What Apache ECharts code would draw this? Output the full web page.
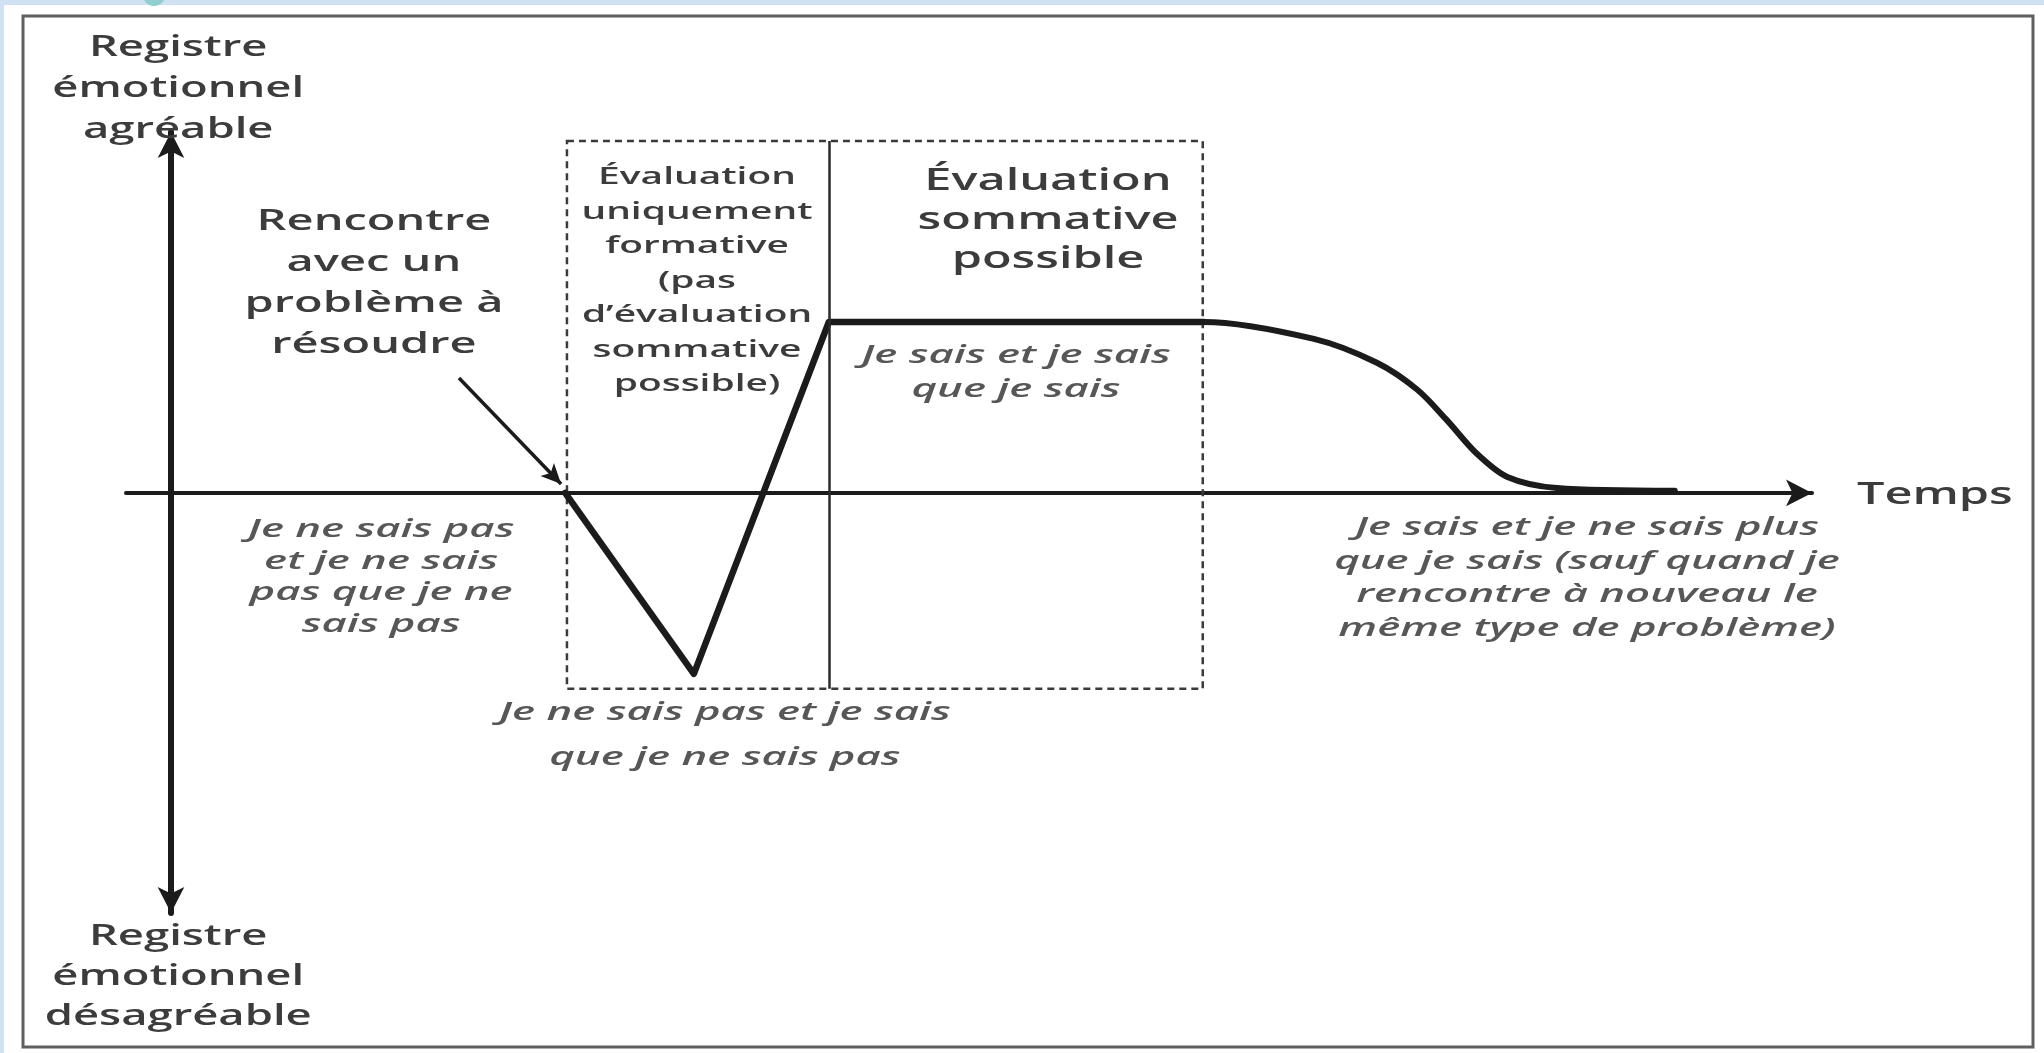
<!DOCTYPE html>
<html><head><meta charset="utf-8">
<script src="https://cdn.jsdelivr.net/npm/echarts@6/dist/echarts.min.js"></script>
<style>html,body{margin:0;padding:0;background:#fff;overflow:hidden}#c{width:2044px;height:1053px}</style>
</head><body><div id="c"></div>
<script>
// ---- data (time units on x, emotional register on y) ----
const riseX = [8.76, 11.62, 14.62, 22.96];
const riseY = [0, -5.23, 4.94, 4.94];
const fadeX = [20.0, 22.96, 25.4, 26.8, 27.7, 28.35, 29.0, 29.7, 30.8, 33.42];
const fadeY = [4.94, 4.94, 4.45, 3.76, 2.98, 2.11, 1.16, 0.46, 0.14, 0.06];
const boxX = [8.8, 22.93];
const boxY = [-5.66, 10.17];
const dividerX = 14.62;
const pointerFrom = [6.4, 3.32];
const pointerTo = [8.67, 0.26];

const labelTexts = [
  'Registre\némotionnel\nagréable',
  'Rencontre\navec un\nproblème à\nrésoudre',
  'Évaluation\nuniquement\nformative\n(pas\nd\u2019évaluation\nsommative\npossible)',
  'Évaluation\nsommative\npossible',
  'Je sais et je sais\nque je sais',
  'Je ne sais pas\net je ne sais\npas que je ne\nsais pas',
  'Je ne sais pas et je sais\nque je ne sais pas',
  'Je sais et je ne sais plus\nque je sais (sauf quand je\nrencontre à nouveau le\nmême type de problème)',
  'Temps',
  'Registre\némotionnel\ndésagréable'
];
const labelAnchorX = [0.16, 4.51, 11.69, 19.49, 18.78, 4.67, 12.31, 31.47, 37.47, 0.16];
const labelAnchorY = [11.68, 6.07, 6.13, 7.86, 3.47, -2.43, -6.99, -2.46, -0.06, -13.99];

// ---- presentation ----
const labelStyle = [
  {size: 28, lh: 41, it: false, align: 'center'},
  {size: 29, lh: 41, it: false, align: 'center'},
  {size: 24, lh: 34.5, it: false, align: 'center'},
  {size: 30, lh: 39, it: false, align: 'center'},
  {size: 26, lh: 34, it: true, align: 'center'},
  {size: 26, lh: 31.7, it: true, align: 'center'},
  {size: 26, lh: 45, it: true, align: 'center'},
  {size: 26, lh: 33.7, it: true, align: 'center'},
  {size: 30, lh: 34, it: false, align: 'left'},
  {size: 28, lh: 40, it: false, align: 'center'}
];
const STRETCH_UPRIGHT = 1.62;
const STRETCH_ITALIC = 1.68;
const INK = '#1b1b1b';

const chart = echarts.init(document.getElementById('c'), null, {renderer: 'canvas'});

const zip = (xs, ys) => xs.map((x, i) => [x, ys[i]]);

chart.setOption({
  animation: false,
  backgroundColor: '#ffffff',
  grid: {left: 126, right: 232, top: 132, bottom: 140, containLabel: false},
  xAxis: {
    type: 'value', min: -1, max: 36.47,
    axisLine: {show: true, onZero: true, symbol: ['none', 'arrow'], symbolSize: [20, 26],
      lineStyle: {color: INK, width: 4}},
    axisTick: {show: false}, axisLabel: {show: false}, splitLine: {show: false}
  },
  yAxis: {
    type: 'value', min: -12.14, max: 10.43,
    axisLine: {show: true, onZero: true, symbol: ['arrow', 'arrow'], symbolSize: [20, 26],
      lineStyle: {color: INK, width: 6}},
    axisTick: {show: false}, axisLabel: {show: false}, splitLine: {show: false}
  },
  series: [
    {
      type: 'line', data: zip(riseX, riseY), symbol: 'none', clip: false, silent: true,
      lineStyle: {color: INK, width: 6.5, cap: 'round', join: 'round'},
      markArea: {
        silent: true,
        itemStyle: {color: 'rgba(0,0,0,0)', borderColor: '#3a3a3a', borderWidth: 2.5, borderType: [7, 5]},
        label: {show: false},
        data: [[{coord: [boxX[0], boxY[1]]}, {coord: [boxX[1], boxY[0]]}]]
      },
      markLine: {
        silent: true, animation: false,
        label: {show: false},
        symbol: ['none', 'none'],
        data: [
          [{coord: [dividerX, boxY[1]], lineStyle: {color: '#2a2a2a', width: 2.5, type: 'solid'}},
           {coord: [dividerX, boxY[0]]}],
          [{coord: pointerFrom, symbol: 'none', lineStyle: {color: INK, width: 3.5, type: 'solid'}},
           {coord: pointerTo, symbol: 'arrow', symbolSize: [14, 20]}]
        ]
      }
    },
    {
      type: 'line', data: zip(fadeX, fadeY), symbol: 'none', clip: false, silent: true,
      smooth: 0.3,
      lineStyle: {color: INK, width: 6, cap: 'round', join: 'round'}
    }
  ]
});

const graphics = [
  {type: 'rect', shape: {x: 0, y: 0, width: 2044, height: 5}, style: {fill: '#cfe1f3'}, silent: true},
  {type: 'rect', shape: {x: 0, y: 0, width: 4, height: 1053}, style: {fill: '#cfe1f3'}, silent: true},
  {type: 'circle', shape: {cx: 154, cy: -5, r: 11}, style: {fill: '#8fcfd0'}, silent: true},
  {type: 'rect', shape: {x: 23, y: 16, width: 2010, height: 1031},
    style: {fill: 'none', stroke: '#5e5e5e', lineWidth: 3}, silent: true}
];

labelTexts.forEach((t, i) => {
  const st = labelStyle[i];
  const p = chart.convertToPixel({gridIndex: 0}, [labelAnchorX[i], labelAnchorY[i]]);
  graphics.push({
    type: 'text', x: p[0], y: p[1], scaleX: st.it ? STRETCH_ITALIC : STRETCH_UPRIGHT, silent: true, z: 10,
    style: {
      text: t,
      fill: st.it ? '#575757' : '#3c3c3c',
      fontFamily: '"Open Sans", "Noto Sans", sans-serif',
      fontSize: st.size,
      fontStyle: st.it ? 'italic' : 'normal',
      fontWeight: 600,
      lineHeight: st.lh,
      align: st.align, textAlign: st.align,
      verticalAlign: 'middle', textVerticalAlign: 'middle'
    }
  });
});

chart.setOption({graphic: graphics});
</script>
</body></html>
